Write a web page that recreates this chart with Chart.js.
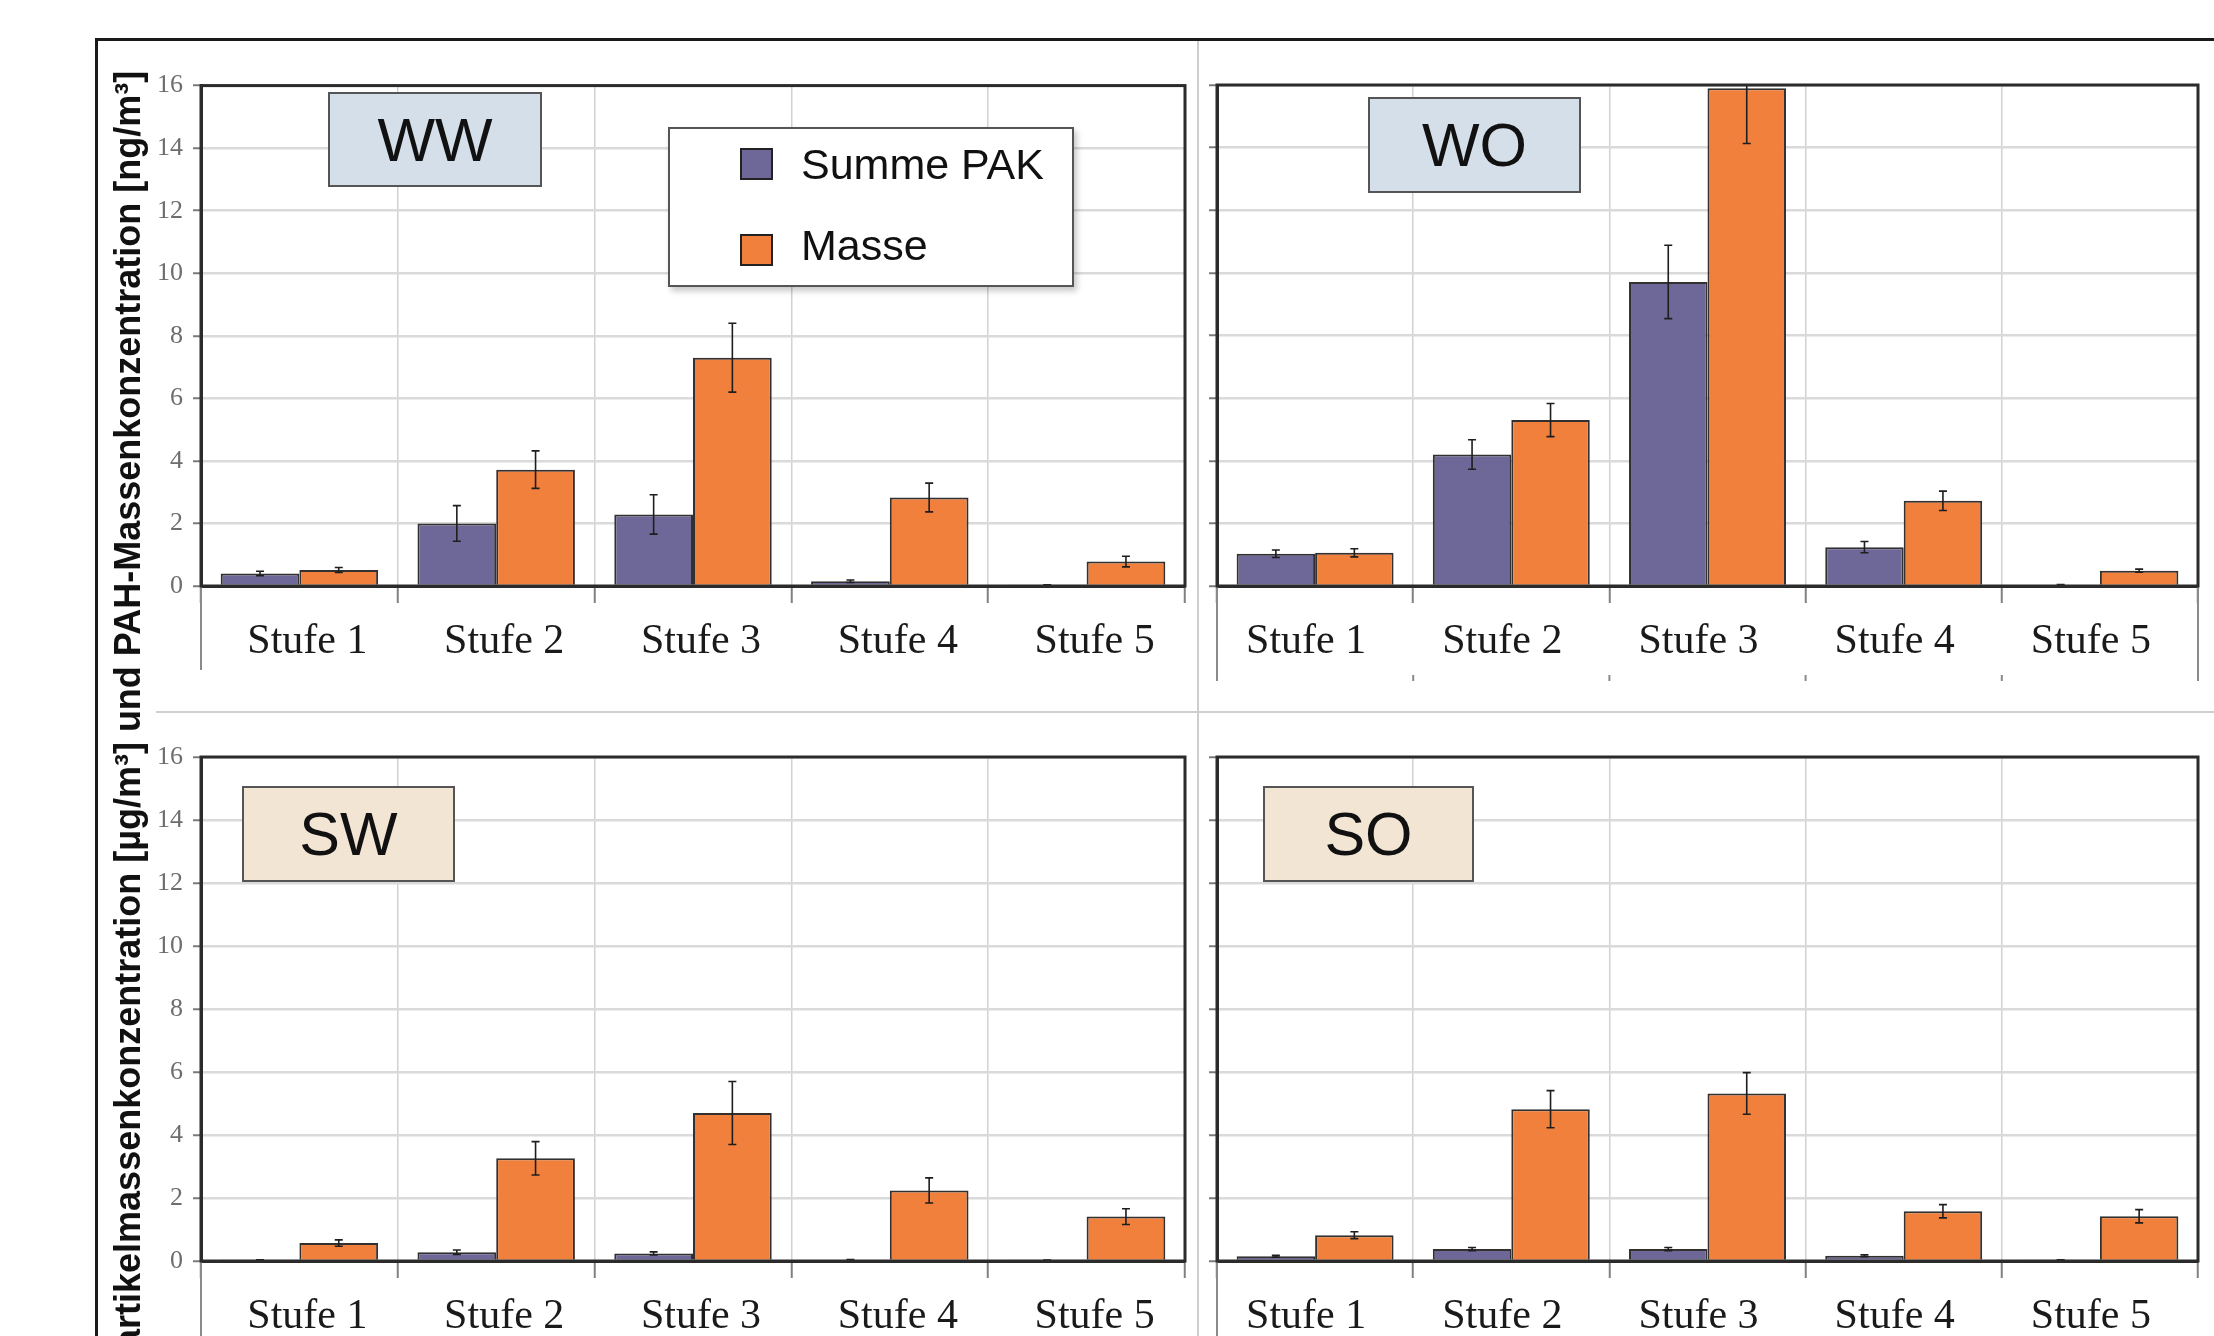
<!DOCTYPE html>
<html>
<head>
<meta charset="utf-8">
<title>PAK- und Partikelmassenkonzentration je Stufe</title>
<script src="https://cdn.jsdelivr.net/npm/chart.js@4.4.1/dist/chart.umd.min.js"></script>
<style>
  html, body { margin: 0; padding: 0; background: #fff; }
  body { width: 2214px; height: 1336px; position: relative; overflow: hidden; }
  canvas.pane { position: absolute; }
  .line { position: absolute; }
  .tag {
    position: absolute; box-sizing: border-box; border: 2px solid #555;
    font-family: "Liberation Sans", Arial, sans-serif; font-size: 61px; color: #111;
    display: flex; align-items: center; justify-content: center;
  }
  .legend {
    position: absolute; box-sizing: border-box; background: #fff; border: 2px solid #555;
    box-shadow: 3px 4px 6px rgba(0,0,0,0.22);
  }
  .legend .sw { position: absolute; box-sizing: border-box; border: 2.5px solid #222; }
  .legend .lt {
    position: absolute; white-space: nowrap; line-height: 43px;
    font-family: "Liberation Sans", Arial, sans-serif; font-size: 43px; color: #111;
  }
  #ytitle {
    position: absolute; white-space: nowrap; transform-origin: 0 0; transform: rotate(-90deg);
    font-family: "Liberation Sans", Arial, sans-serif; font-weight: bold; font-size: 36px;
    line-height: 42px; color: #111;
  }
</style>
</head>
<body>
<!-- outer frame and panel dividers -->
<div class="line" style="left:95px;top:38px;width:2130px;height:3px;background:#1a1a1a"></div>
<div class="line" style="left:95px;top:38px;width:3px;height:1310px;background:#1a1a1a"></div>
<div class="line" style="left:1197px;top:41px;width:2px;height:1300px;background:#cfcfcf"></div>
<div class="line" style="left:156px;top:711px;width:2060px;height:2px;background:#cfcfcf"></div>

<canvas class="pane" id="cWW"></canvas>
<canvas class="pane" id="cWO"></canvas>
<canvas class="pane" id="cSW"></canvas>
<canvas class="pane" id="cSO"></canvas>

<div id="ytitle">Partikelmassenkonzentration [µg/m³] und PAH-Massenkonzentration [ng/m³]</div>

<script>
// ---- data ----
const categories = ['Stufe 1', 'Stufe 2', 'Stufe 3', 'Stufe 4', 'Stufe 5'];
const seriesNames = ['Summe PAK', 'Masse'];
const yTickValues = [0, 2, 4, 6, 8, 10, 12, 14, 16];
const yTickLabels = ['0', '2', '4', '6', '8', '10', '12', '14', '16'];

// WW
const wwPak      = [0.40, 2.00, 2.29, 0.15, 0.03];
const wwPakErr   = [0.07, 0.57, 0.63, 0.04, 0.01];
const wwMasse    = [0.51, 3.72, 7.30, 2.83, 0.78];
const wwMasseErr = [0.08, 0.60, 1.10, 0.46, 0.17];
// WO
const woPak      = [1.03, 4.20, 9.71, 1.24, 0.04];
const woPakErr   = [0.12, 0.47, 1.17, 0.18, 0.01];
const woMasse    = [1.06, 5.30, 15.90, 2.72, 0.49];
const woMasseErr = [0.13, 0.53, 1.77, 0.31, 0.05];
// SW
const swPak      = [0.03, 0.28, 0.24, 0.04, 0.02];
const swPakErr   = [0.01, 0.07, 0.05, 0.01, 0.01];
const swMasse    = [0.57, 3.26, 4.70, 2.24, 1.41];
const swMasseErr = [0.10, 0.53, 1.00, 0.40, 0.25];
// SO
const soPak      = [0.15, 0.38, 0.38, 0.17, 0.03];
const soPakErr   = [0.03, 0.05, 0.05, 0.03, 0.01];
const soMasse    = [0.82, 4.82, 5.32, 1.58, 1.42];
const soMasseErr = [0.11, 0.59, 0.66, 0.21, 0.21];

// ---- styles ----
const PAK_COLOR = '#6e6898';
const MASSE_COLOR = '#f0803c';
const BAR_EDGE = '#333030';

// error bars, plot frame and the lines below the category axis
const panelDecor = {
  id: 'panelDecor',
  afterDatasetsDraw(chart) {
    const ctx = chart.ctx, a = chart.chartArea, y = chart.scales.y;
    ctx.save();
    ctx.beginPath();
    ctx.rect(a.left, a.top, a.right - a.left, a.bottom - a.top);
    ctx.clip();
    ctx.strokeStyle = '#1e1e1e';
    ctx.lineWidth = 1.6;
    chart.data.datasets.forEach((ds, i) => {
      const meta = chart.getDatasetMeta(i);
      meta.data.forEach((bar, j) => {
        const v = ds.data[j], e = ds.errors[j];
        const yt = y.getPixelForValue(v + e), yb = y.getPixelForValue(v - e);
        ctx.beginPath();
        ctx.moveTo(bar.x, yt); ctx.lineTo(bar.x, yb);
        ctx.moveTo(bar.x - 4, yt); ctx.lineTo(bar.x + 4, yt);
        ctx.moveTo(bar.x - 4, yb); ctx.lineTo(bar.x + 4, yb);
        ctx.stroke();
      });
    });
    ctx.restore();
  },
  afterDraw(chart, args, opts) {
    const ctx = chart.ctx, a = chart.chartArea;
    ctx.save();
    // lines under the category labels
    ctx.strokeStyle = '#8a8a8a';
    ctx.lineWidth = 2;
    ctx.beginPath();
    ctx.moveTo(a.left, a.bottom); ctx.lineTo(a.left, a.bottom + opts.leftDrop);
    if (opts.rightDrop) { ctx.moveTo(a.right, a.bottom); ctx.lineTo(a.right, a.bottom + opts.rightDrop); }
    ctx.stroke();
    if (opts.baseTicks) {
      const step = (a.right - a.left) / categories.length;
      ctx.beginPath();
      for (let k = 1; k < categories.length; k++) {
        const px = a.left + k * step;
        ctx.moveTo(px, a.bottom + opts.rightDrop - 6); ctx.lineTo(px, a.bottom + opts.rightDrop);
      }
      ctx.stroke();
    }
    // plot frame
    ctx.strokeStyle = '#2b2b2b';
    ctx.lineWidth = 3;
    ctx.strokeRect(a.left, a.top, a.right - a.left, a.bottom - a.top);
    ctx.restore();
  }
};

function makePanel(id, pos, pak, pakErr, masse, masseErr, opt) {
  const cv = document.getElementById(id);
  cv.width = pos.w; cv.height = pos.h;
  cv.style.left = pos.x + 'px'; cv.style.top = pos.y + 'px';
  return new Chart(cv, {
    type: 'bar',
    data: {
      labels: categories,
      datasets: [
        { label: seriesNames[0], data: pak, errors: pakErr, backgroundColor: PAK_COLOR,
          borderColor: BAR_EDGE, borderWidth: 2 },
        { label: seriesNames[1], data: masse, errors: masseErr, backgroundColor: MASSE_COLOR,
          borderColor: BAR_EDGE, borderWidth: 2 }
      ]
    },
    options: {
      responsive: false, animation: false, devicePixelRatio: 1,
      layout: { padding: { top: pos.padTop, right: pos.padRight, left: 0, bottom: 0 } },
      datasets: { bar: { categoryPercentage: 0.8, barPercentage: 1.0 } },
      plugins: {
        legend: { display: false }, tooltip: { enabled: false },
        panelDecor: { leftDrop: opt.leftDrop, rightDrop: opt.rightDrop || 0, baseTicks: !!opt.baseTicks }
      },
      scales: {
        x: {
          offset: true,
          grid: { offset: true, color: '#d2d2d2', lineWidth: 1.5, drawTicks: true,
                  tickLength: 17, tickColor: '#808080', tickWidth: 2 },
          border: { display: true, color: '#2b2b2b', width: 3 },
          ticks: { font: { family: 'Liberation Serif', size: 42 }, color: '#1a1a1a',
                   padding: 14, maxRotation: 0, autoSkip: false, labelOffset: opt.labelShift },
          afterFit(s) { s.height = pos.xAxisH; }
        },
        y: {
          min: 0, max: 16,
          afterBuildTicks(s) { s.ticks = yTickValues.map(v => ({ value: v })); },
          grid: { color: '#dadada', lineWidth: 2.5, drawTicks: true,
                  tickLength: 8, tickColor: '#7a7a7a', tickWidth: 2 },
          border: { display: true, color: '#2b2b2b', width: 3 },
          ticks: { display: opt.yLabels, font: { family: 'Liberation Serif', size: 26 },
                   color: '#6e6e6e', padding: 10,
                   callback: (v, i) => yTickLabels[i] },
          afterFit(s) { s.width = pos.yAxisW; }
        }
      }
    },
    plugins: [panelDecor]
  });
}

makePanel('cWW', { x: 140, y: 60, w: 1060, h: 640, padTop: 25, padRight: 15, yAxisW: 61, xAxisH: 114 },
          wwPak, wwPakErr, wwMasse, wwMasseErr, { yLabels: true, leftDrop: 84, labelShift: 8 });
makePanel('cWO', { x: 1200, y: 60, w: 1014, h: 640, padTop: 25, padRight: 16, yAxisW: 17, xAxisH: 114 },
          woPak, woPakErr, woMasse, woMasseErr, { yLabels: false, leftDrop: 95, rightDrop: 95, baseTicks: true, labelShift: -9 });
makePanel('cSW', { x: 140, y: 730, w: 1060, h: 606, padTop: 27, padRight: 15, yAxisW: 61, xAxisH: 75 },
          swPak, swPakErr, swMasse, swMasseErr, { yLabels: true, leftDrop: 90, labelShift: 8 });
makePanel('cSO', { x: 1200, y: 730, w: 1014, h: 606, padTop: 27, padRight: 16, yAxisW: 17, xAxisH: 75 },
          soPak, soPakErr, soMasse, soMasseErr, { yLabels: false, leftDrop: 90, labelShift: -9 });

// panel name tags
const tags = [
  { text: 'WW', x: 328, y: 92, w: 214, h: 95, bg: '#d5dfe9' },
  { text: 'WO', x: 1368, y: 97, w: 213, h: 96, bg: '#d5dfe9' },
  { text: 'SW', x: 242, y: 786, w: 213, h: 96, bg: '#f3e5d4' },
  { text: 'SO', x: 1263, y: 786, w: 211, h: 96, bg: '#f3e5d4' }
];
tags.forEach(t => {
  const d = document.createElement('div');
  d.className = 'tag';
  d.textContent = t.text;
  Object.assign(d.style, { left: t.x + 'px', top: t.y + 'px', width: t.w + 'px', height: t.h + 'px', background: t.bg });
  document.body.appendChild(d);
});

// series legend inside the WW panel
const lg = document.createElement('div');
lg.className = 'legend';
Object.assign(lg.style, { left: '668px', top: '127px', width: '406px', height: '160px' });
[[PAK_COLOR, seriesNames[0], 19, 14], [MASSE_COLOR, seriesNames[1], 105, 95]].forEach(([c, name, sy, ty]) => {
  const s = document.createElement('div');
  s.className = 'sw';
  Object.assign(s.style, { left: '70px', top: sy + 'px', width: '33px', height: '32px', background: c });
  lg.appendChild(s);
  const t = document.createElement('div');
  t.className = 'lt';
  t.textContent = name;
  Object.assign(t.style, { left: '131px', top: ty + 'px' });
  lg.appendChild(t);
});
document.body.appendChild(lg);

// shared value-axis title, ending near the top of the frame
const yt = document.getElementById('ytitle');
yt.style.left = '107px';
yt.style.top = (71 + yt.offsetWidth) + 'px';
</script>
</body>
</html>
